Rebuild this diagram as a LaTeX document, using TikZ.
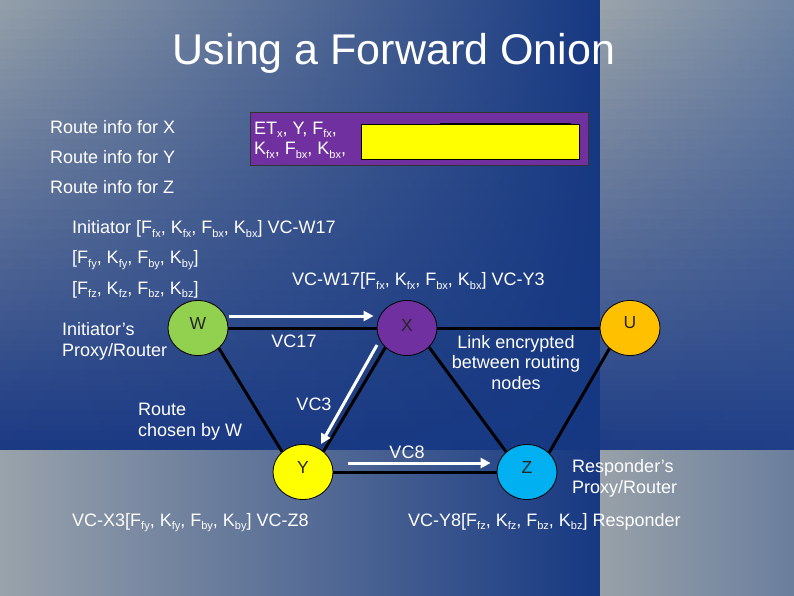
\documentclass[tikz,border=0pt]{standalone}
\usepackage{fontspec}
\setmainfont{Liberation Sans}
\usetikzlibrary{shapes.geometric,arrows.meta}
\definecolor{Atop}{HTML}{939FA9}
\definecolor{Abot}{HTML}{1C3A84}
\definecolor{Bblue}{HTML}{163882}
\definecolor{RUL}{HTML}{9AA3AA}
\definecolor{RUR}{HTML}{7085A3}
\definecolor{RLL}{HTML}{1D3C85}
\definecolor{RLR}{HTML}{203F88}
\definecolor{BLl}{HTML}{99A3AB}
\definecolor{BLm}{HTML}{4C6692}
\definecolor{BRl}{HTML}{98A1A9}
\definecolor{BRr}{HTML}{6A7E9D}
\definecolor{boxpurple}{HTML}{7030A0}
\definecolor{ngreen}{HTML}{92D050}
\definecolor{npurple}{HTML}{7030A0}
\definecolor{norange}{HTML}{FFC000}
\definecolor{nyellow}{HTML}{FFFF00}
\definecolor{nblue}{HTML}{00B0F0}
\newcommand\sbs[1]{\raisebox{-3.5pt}{\fontsize{11}{11}\selectfont #1}}
\begin{document}
\begin{tikzpicture}[x=1pt,y=1pt,
  txt/.style={text=white,font=\fontsize{18}{20.5}\selectfont,inner sep=0pt},
  nd/.style={ellipse,draw=black,line width=0.8pt,minimum width=60pt,minimum height=55pt,inner sep=0pt},
  nlab/.style={text=black!85,font=\fontsize{17.5}{17.5}\selectfont,inner sep=0pt},
  edge/.style={line width=3pt,black},
  warrow/.style={line width=3pt,white,-{Triangle[length=10pt,width=10pt]}},
]
\useasboundingbox (0,0) rectangle (794,595);
% background: top-left panel
\foreach \i in {0,...,44}{
  \pgfmathsetmacro\p{100-\i*100/44}
  \colorlet{stripL}{Atop!\p!Abot}
  \shade[left color=stripL,right color=Bblue,draw=none]
    (0,{595-10*\i}) rectangle (600,{595-10*(\i+1)-0.6});
}
% top-right panel
\foreach \i in {0,...,44}{
  \pgfmathsetmacro\p{100-\i*100/44}
  \colorlet{stripL}{RUL!\p!RLL}
  \colorlet{stripR}{RUR!\p!RLR}
  \shade[left color=stripL,right color=stripR,draw=none]
    (600,{595-10*\i}) rectangle (794,{595-10*(\i+1)-0.6});
}
% bottom panels
\shade[left color=BLl,middle color=BLm,right color=Bblue] (0,0) rectangle (600,145);
\shade[left color=BRl,right color=BRr] (600,0) rectangle (794,145);

% title
\node[text=white,font=\fontsize{43}{43}\selectfont,inner sep=0pt,anchor=base] (title) at (394,530) {Using a Forward Onion};

% route info
\node[txt,anchor=base west] (rx) at (50,461) {Route info for X};
\node[txt,anchor=base west] (ry) at (50,431) {Route info for Y};
\node[txt,anchor=base west] (rz) at (50,401) {Route info for Z};

% onion box
\node[draw=black!80,line width=0.8pt,fill=boxpurple,minimum width=338pt,minimum height=53pt,inner sep=0pt,anchor=north west] (box) at (250,483) {};
\node[draw=black,line width=0.8pt,fill=nyellow,minimum width=218pt,minimum height=35pt,inner sep=0pt,anchor=north west] (ybox) at (361,471) {};
\draw[line width=1.6pt] ([xshift=79pt]ybox.north west) -- ([xshift=-9pt]ybox.north east);
\node[txt,anchor=base west,align=left] (boxtxt) at (254,440) {ET\sbs{x}, Y, F\sbs{fx},\\K\sbs{fx}, F\sbs{bx}, K\sbs{bx},};

% onion layers
\node[txt,anchor=base west] (l1) at (72,361) {Initiator [F\sbs{fx}, K\sbs{fx}, F\sbs{bx}, K\sbs{bx}] VC-W17};
\node[txt,anchor=base west] (l2) at (72,331) {[F\sbs{fy}, K\sbs{fy}, F\sbs{by}, K\sbs{by}]};
\node[txt,anchor=base west] (l3) at (72,301) {[F\sbs{fz}, K\sbs{fz}, F\sbs{bz}, K\sbs{bz}]};
\node[txt,anchor=base west] (l4) at (292,309) {VC-W17[F\sbs{fx}, K\sbs{fx}, F\sbs{bx}, K\sbs{bx}] VC-Y3};

% nodes
\node[nd,fill=ngreen] (W) at (198,267) {};
\node[nd,fill=npurple] (X) at (407,267) {};
\node[nd,fill=norange] (U) at (630,267) {};
\node[nd,fill=nyellow] (Y) at (303,123) {};
\node[nd,fill=nblue] (Z) at (527,123) {};
\node[nlab] (Wl) at ([yshift=5pt]W.center) {W};
\node[nlab] (Xl) at ([yshift=3pt]X.center) {X};
\node[nlab] (Ul) at ([yshift=5pt]U.center) {U};
\node[nlab] (Yl) at ([yshift=5pt]Y.center) {Y};
\node[nlab] (Zl) at ([yshift=5pt]Z.center) {Z};

% edges
\draw[edge] (W) -- (X);
\draw[edge] (X) -- (U);
\draw[edge] (W.-44) -- (Y.136);
\draw[edge] (X.-138) -- (Y.45);
\draw[edge] (X.-41) -- (Z.136);
\draw[edge] (U.-135) -- (Z.41);
\draw[edge] (Y) -- (Z);

% white arrows
\draw[warrow] ([shift={(1pt,12pt)}]W.east) -- ([shift={(-3pt,12pt)}]X.west);
\draw[warrow] ([shift={(-30pt,-17pt)}]X.center) -- ([shift={(18pt,28pt)}]Y.center);
\draw[warrow] ([shift={(15pt,9pt)}]Y.east) -- ([shift={(-6pt,9pt)}]Z.west);

% labels
\node[txt,anchor=base] (vc17) at (294,248) {VC17};
\node[txt,anchor=base] (vc3) at (314,185) {VC3};
\node[txt,anchor=base] (vc8) at (407,137) {VC8};
\node[txt,anchor=base west,align=left] (ini) at (62,239) {Initiator’s\\Proxy/Router};
\node[txt,anchor=base west,align=left] (route) at (138,159) {Route\\chosen by W};
\node[txt,anchor=base,align=center] (link) at (516,206) {Link encrypted\\between routing\\nodes};
\node[txt,anchor=base west,align=left] (resp) at (572,102) {Responder’s\\Proxy/Router};
\node[txt,anchor=base west] (b1) at (72,69) {VC-X3[F\sbs{fy}, K\sbs{fy}, F\sbs{by}, K\sbs{by}] VC-Z8};
\node[txt,anchor=base west] (b2) at (408,69) {VC-Y8[F\sbs{fz}, K\sbs{fz}, F\sbs{bz}, K\sbs{bz}] Responder};
\end{tikzpicture}
\end{document}
